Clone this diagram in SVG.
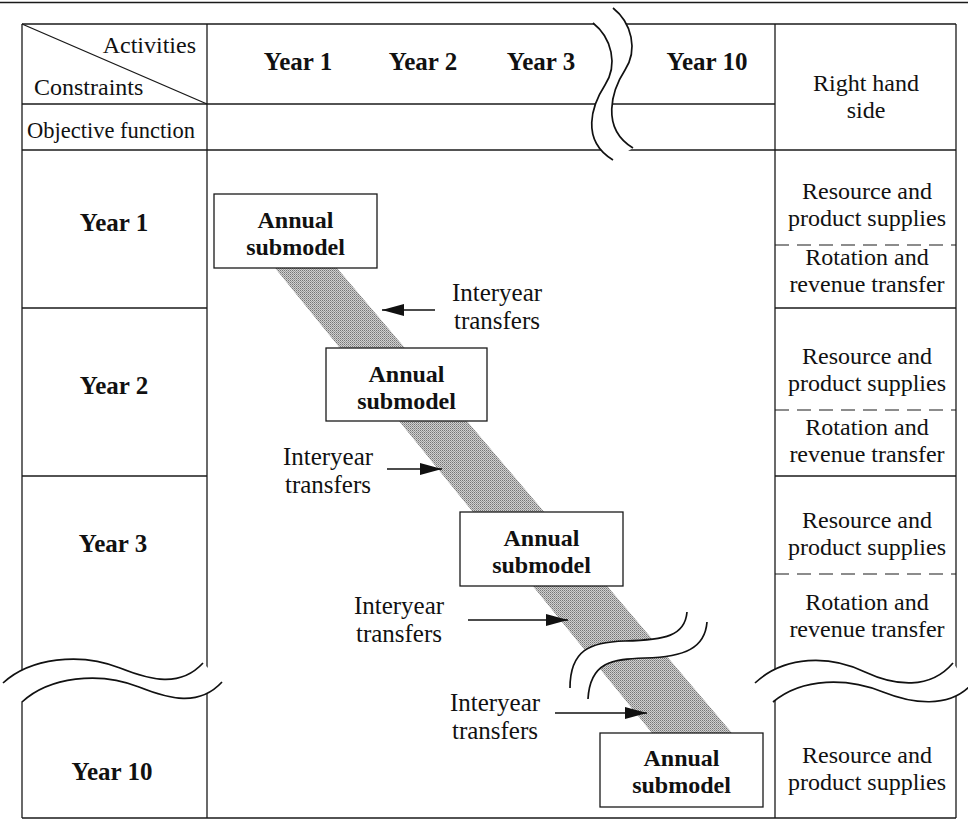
<svg xmlns="http://www.w3.org/2000/svg" width="968" height="828" viewBox="0 0 968 828">
<style>
.ln{stroke:#1a1a1a;stroke-width:1.3;fill:none}
.dash{stroke:#1a1a1a;stroke-width:1.2;stroke-dasharray:14 8;fill:none}
.brk{stroke:#111;stroke-width:1.7;fill:none}
.wf{fill:#fff;stroke:none}
.t{font-family:"Liberation Serif","Times New Roman",serif;font-size:24px;fill:#111}
.b{font-family:"Liberation Serif","Times New Roman",serif;font-size:25px;font-weight:bold;fill:#111}
.s22{font-size:22.5px}
.s24{font-size:24px}
.s25{font-size:25px}
.c{text-anchor:middle}
.box{fill:#fff;stroke:#1a1a1a;stroke-width:1.3}
.arr{stroke:#111;stroke-width:1.6;fill:none;marker-end:url(#ah)}
</style>
<defs>
<marker id="ah" viewBox="0 0 22 12" refX="22" refY="6" markerWidth="22" markerHeight="12" markerUnits="userSpaceOnUse" orient="auto"><path d="M0,0 L22,6 L0,12 Z" fill="#111"/></marker>
<pattern id="ht" width="2" height="2" patternUnits="userSpaceOnUse"><rect width="2" height="2" fill="#d0d0d0"/><rect width="1" height="1" fill="#767676"/><rect x="1" y="1" width="1" height="1" fill="#9a9a9a"/></pattern>
</defs>
<rect width="968" height="828" fill="#fff"/>

<g id="grid">
<line class="ln" x1="0" y1="2.5" x2="968" y2="2.5"/>
<line class="ln" x1="22" y1="24" x2="956" y2="24"/>
<line class="ln" x1="22" y1="104" x2="775" y2="104"/>
<line class="ln" x1="22" y1="150" x2="956" y2="150"/>
<line class="ln" x1="22" y1="818" x2="956" y2="818"/>
<line class="ln" x1="22" y1="24" x2="22" y2="818"/>
<line class="ln" x1="207" y1="24" x2="207" y2="818"/>
<line class="ln" x1="775" y1="24" x2="775" y2="818"/>
<line class="ln" x1="956" y1="24" x2="956" y2="818"/>
<line class="ln" x1="22" y1="24" x2="207" y2="104"/>
<line class="ln" x1="22" y1="308" x2="207" y2="308"/>
<line class="ln" x1="22" y1="476" x2="207" y2="476"/>
<line class="ln" x1="775" y1="308" x2="956" y2="308"/>
<line class="ln" x1="775" y1="476" x2="956" y2="476"/>
<line class="dash" x1="775" y1="245" x2="956" y2="245"/>
<line class="dash" x1="775" y1="410" x2="956" y2="410"/>
<line class="dash" x1="775" y1="574" x2="956" y2="574"/>
</g>

<g id="band">
<polygon points="275,268 337,268 732,733 652,733" fill="url(#ht)"/>
</g>

<g id="header">
<text class="t" x="196" y="53" text-anchor="end">Activities</text>
<text class="t" x="34" y="95">Constraints</text>
<text class="t s22" x="27" y="138">Objective function</text>
<text class="b c" x="298" y="70">Year 1</text>
<text class="b c" x="423" y="70">Year 2</text>
<text class="b c" x="541" y="70">Year 3</text>
<text class="b c" x="707" y="70">Year 10</text>
<text class="t c" x="866" y="90.5">Right hand<tspan x="866" dy="27">side</tspan></text>
</g>

<g id="row-year1"><text class="b c" x="114" y="231">Year 1</text></g>
<g id="row-year2"><text class="b c" x="114" y="394">Year 2</text></g>
<g id="row-year3"><text class="b c" x="113" y="552">Year 3</text></g>
<g id="row-year10"><text class="b c" x="112" y="780">Year 10</text></g>

<g id="rhs-year1">
<text class="t c" x="867" y="198.5">Resource and<tspan x="867" dy="27">product supplies</tspan></text>
<text class="t c" x="867" y="265">Rotation and<tspan x="867" dy="27">revenue transfer</tspan></text>
</g>
<g id="rhs-year2">
<text class="t c" x="867" y="363.5">Resource and<tspan x="867" dy="27">product supplies</tspan></text>
<text class="t c" x="867" y="435">Rotation and<tspan x="867" dy="27">revenue transfer</tspan></text>
</g>
<g id="rhs-year3">
<text class="t c" x="867" y="527.5">Resource and<tspan x="867" dy="27">product supplies</tspan></text>
<text class="t c" x="867" y="610">Rotation and<tspan x="867" dy="27">revenue transfer</tspan></text>
</g>
<g id="rhs-year10">
<text class="t c" x="867" y="762.5">Resource and<tspan x="867" dy="27">product supplies</tspan></text>
</g>

<g id="submodel-1">
<rect class="box" x="214" y="194" width="163" height="74"/>
<text class="b c s24" x="295.5" y="227.5">Annual<tspan x="295.5" dy="27">submodel</tspan></text>
</g>
<g id="submodel-2">
<rect class="box" x="326" y="348" width="161" height="73"/>
<text class="b c s24" x="406.5" y="381.5">Annual<tspan x="406.5" dy="27">submodel</tspan></text>
</g>
<g id="submodel-3">
<rect class="box" x="460" y="512" width="163" height="74"/>
<text class="b c s24" x="541.5" y="545.5">Annual<tspan x="541.5" dy="27">submodel</tspan></text>
</g>
<g id="submodel-10">
<rect class="box" x="600" y="733" width="163" height="74"/>
<text class="b c s24" x="681.5" y="765.5">Annual<tspan x="681.5" dy="27">submodel</tspan></text>
</g>

<g id="breaks">
<path class="wf" d="M593,23 C612,38 618,65 605,85 C592,105 580,140 613,160 L633,148 C600,128 612,90 625,70 C638,50 632,23 613,8 Z"/>
<path class="brk" d="M593,23 C612,38 618,65 605,85 C592,105 580,140 613,160"/>
<path class="brk" d="M613,8 C632,23 638,50 625,70 C612,90 600,128 633,148"/>
<path class="wf" d="M3,683 C30,658 80,652 120,668 C150,680 180,688 203,663 L222,682 C199,707 169,699 139,687 C99,671 49,677 22,702 Z"/>
<path class="brk" d="M3,683 C30,658 80,652 120,668 C150,680 180,688 203,663"/>
<path class="brk" d="M22,702 C49,677 99,671 139,687 C169,699 199,707 222,682"/>
<path class="wf" d="M755,683 C785,655 830,655 865,672 C895,686 930,690 953,663 L970,686 C948,708 913,704 883,692 C848,678 803,677 773,702 Z"/>
<path class="brk" d="M755,683 C785,655 830,655 865,672 C895,686 930,690 953,663"/>
<path class="brk" d="M773,702 C803,677 848,678 883,692 C913,704 948,708 970,686"/>
<path class="wf" d="M570,688 C570,650 590,642 625,641 C665,640 685,636 687,612 L707,622 C705,648 685,657 645,658 C612,659 590,662 588,699 Z"/>
<path class="brk" d="M570,688 C570,650 590,642 625,641 C665,640 685,636 687,612"/>
<path class="brk" d="M588,699 C590,662 612,659 645,658 C685,657 705,648 707,622"/>
</g>

<g id="connectors">
<line class="arr" x1="435" y1="310" x2="382" y2="310"/>
<line class="arr" x1="387" y1="469" x2="442" y2="469"/>
<line class="arr" x1="468" y1="620" x2="568" y2="620"/>
<line class="arr" x1="555" y1="713" x2="647" y2="713"/>
</g>

<g id="label-transfer-1">
<text class="t c s25" x="497" y="301">Interyear<tspan x="497" dy="28">transfers</tspan></text>
</g>
<g id="label-transfer-2">
<text class="t c s25" x="328" y="465">Interyear<tspan x="328" dy="28">transfers</tspan></text>
</g>
<g id="label-transfer-3">
<text class="t c s25" x="399" y="614">Interyear<tspan x="399" dy="28">transfers</tspan></text>
</g>
<g id="label-transfer-4">
<text class="t c s25" x="495" y="711">Interyear<tspan x="495" dy="28">transfers</tspan></text>
</g>
</svg>
